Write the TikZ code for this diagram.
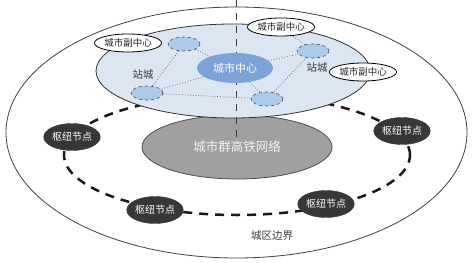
\documentclass[tikz,border=0pt]{standalone}
\usepackage{fontspec}
\newfontfamily\cjk{Noto Sans CJK SC}
\usetikzlibrary{shapes.geometric}
\definecolor{planeblue}{RGB}{220,230,242}
\definecolor{corefill}{RGB}{125,163,214}
\definecolor{stationfill}{RGB}{170,203,235}
\definecolor{netgray}{RGB}{160,160,160}
\definecolor{hubfill}{RGB}{55,55,55}
\definecolor{inkgray}{RGB}{60,60,60}
\tikzset{
  subcenter/.style={ellipse, draw=black, line width=0.8pt, fill=white, inner sep=0pt,
    minimum width=57pt, minimum height=18pt, font=\cjk\fontsize{9.5}{10}\selectfont, text=black!85},
  station/.style={ellipse, draw=black!70, dashed, line width=0.6pt, fill=stationfill,
    inner sep=0pt, minimum width=32pt, minimum height=14pt},
  core/.style={ellipse, fill=corefill, inner sep=0pt, minimum width=76pt, minimum height=30pt,
    font=\cjk\fontsize{11}{12}\selectfont, text=white},
  hub/.style={ellipse, fill=hubfill, draw=black!80, inner sep=0pt, minimum width=54pt,
    minimum height=27pt, font=\cjk\fontsize{10}{11}\selectfont, text=white},
  label/.style={font=\cjk\fontsize{10.5}{11}\selectfont, text=inkgray, inner sep=0pt},
  link/.style={draw=black!65, dotted, line width=0.7pt},
  ring/.style={draw=black!90, line width=2.5pt, dash pattern=on 9pt off 7pt},
  axis/.style={draw=inkgray, line width=1.8pt, dash pattern=on 7pt off 6pt},
}
\begin{document}
\begin{tikzpicture}[x=1pt,y=-1pt]
\useasboundingbox (0,0) rectangle (473,262);
% city boundary
\draw[draw=black!75, line width=0.8pt, fill=white] (236.5,132.5) ellipse [x radius=230.5pt, y radius=125.5pt];
\node[label] (boundary) at (272,236) {城区边界};
% ring of hub nodes
\draw[ring] (237,155) ellipse [x radius=173pt, y radius=60pt];
% regional high-speed rail network
\node[ellipse, draw=black!70, line width=0.8pt, fill=netgray, minimum width=190pt, minimum height=64pt,
  font=\cjk\fontsize{12.5}{13}\selectfont, text=white!95!black] (net) at (237,147) {城市群高铁网络};
% urban plane
\draw[draw=black!80, line width=0.8pt, fill=planeblue] (233,71) ellipse [x radius=137pt, y radius=47pt];
% central axis
\coordinate (axtop) at (236.5,0);
\coordinate (axbot) at (236.5,141);
\draw[axis] (axtop) -- (axbot);
% centre, stations and sub-centres
\node[core] (core) at (235,68) {城市中心};
\node[station] (stl) at (184,44) {};
\node[station] (sr) at (313,51) {};
\node[station] (sbl) at (147,93) {};
\node[station] (sbr) at (267,99) {};
\node[subcenter] (fl) at (128,43) {城市副中心};
\node[subcenter] (ft) at (281,27) {城市副中心};
\node[subcenter] (fr) at (363,72) {城市副中心};
% station links
\path[link] (stl) -- (sbl);
\path[link] (stl) -- (core);
\path[link] (core) -- (sbl);
\path[link] (sbl) -- (sbr);
\path[link] (core) -- (sbr);
\path[link] (core) -- (sr);
\path[link] (sr) -- (sbr);
\path[link] (sr) -- (ft);
\node[label, fill=planeblue, inner sep=1pt] (zl) at (143,75) {站城};
\node[label, fill=planeblue, inner sep=1pt] (zr) at (317,68) {站城};
% hub nodes
\node[hub] (hl) at (72,137) {枢纽节点};
\node[hub] (hr) at (402,131) {枢纽节点};
\node[hub] (hbl) at (155,210) {枢纽节点};
\node[hub] (hbr) at (326,204) {枢纽节点};
\end{tikzpicture}
\end{document}
